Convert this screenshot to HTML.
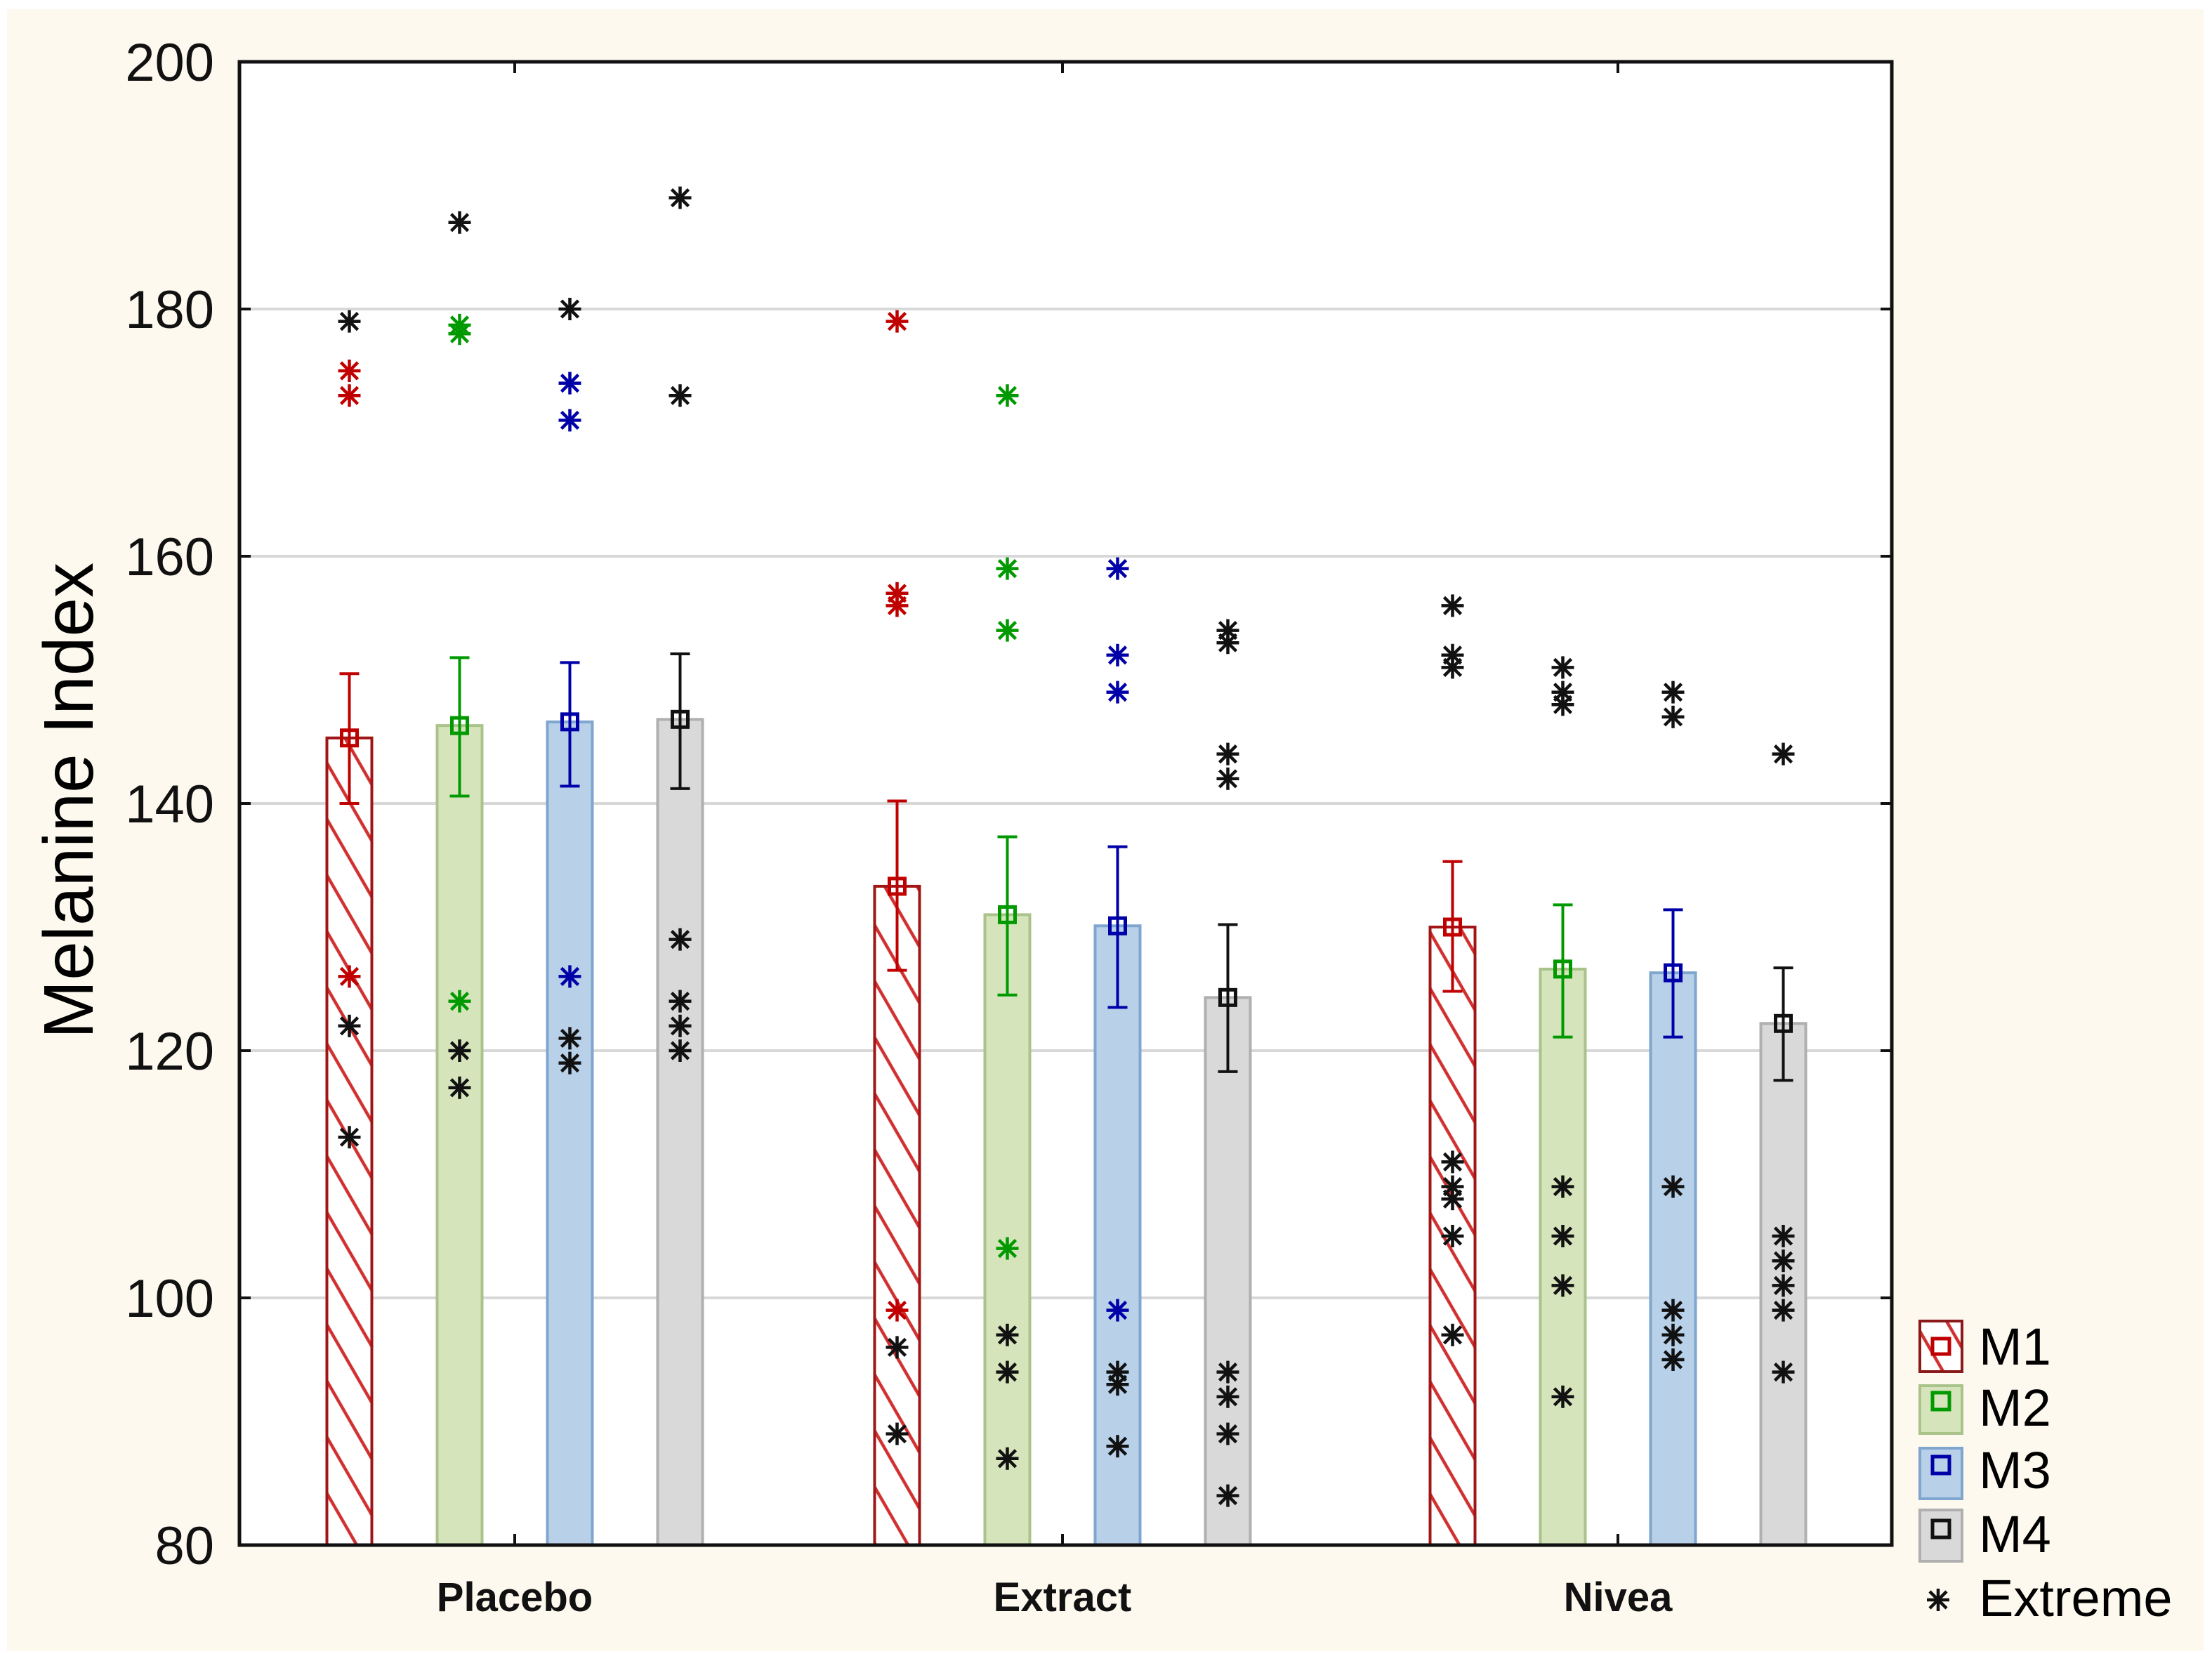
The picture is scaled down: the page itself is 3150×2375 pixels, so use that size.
<!DOCTYPE html>
<html><head><meta charset="utf-8"><style>
html,body{margin:0;padding:0;background:#fff}
svg{display:block}
text{font-family:"Liberation Sans",sans-serif}
</style></head><body>
<svg id="chart" width="3150" height="2375" viewBox="0 0 3150 2375" xmlns="http://www.w3.org/2000/svg">
<defs>
<pattern id="hatch" patternUnits="userSpaceOnUse" width="40" height="40" patternTransform="rotate(-30)">
<rect width="40" height="40" fill="#fff"/>
<line x1="0" y1="0" x2="0" y2="40" stroke="#d03030" stroke-width="4.5" transform="translate(20,0)"/>
</pattern>
</defs>
<rect x="10" y="13" width="3128" height="2338" fill="#fdf9ef"/>
<rect x="341" y="88" width="2353" height="2112" fill="#fff"/>
<g id="grid"></g>
<g id="bars"></g>
<g id="pts"></g>
<rect x="341" y="88" width="2353" height="2112" fill="none" stroke="#111" stroke-width="5"/>
<g id="axes"></g>
<text transform="translate(132,1140) rotate(-90)" text-anchor="middle" font-size="100" fill="#000">Melanine Index</text>
<g>
<rect x="2734" y="1881" width="60" height="72" fill="url(#hatch)" stroke="#8b1a1a" stroke-width="4"/>
<rect x="2752" y="1906" width="24" height="22" fill="#fff" stroke="#c00000" stroke-width="5"/>
<text x="2818" y="1943" font-size="74">M1</text>
<rect x="2734" y="1973" width="60" height="68" fill="#d6e4bc" stroke="#a9c38a" stroke-width="4"/>
<rect x="2752" y="1983" width="24" height="24" fill="#d6e4bc" stroke="#009a00" stroke-width="5"/>
<text x="2818" y="2030" font-size="74">M2</text>
<rect x="2734" y="2062" width="60" height="72" fill="#b8d0e8" stroke="#7fa6cf" stroke-width="4"/>
<rect x="2752" y="2074" width="24" height="24" fill="#b8d0e8" stroke="#0000a8" stroke-width="5"/>
<text x="2818" y="2119" font-size="74">M3</text>
<rect x="2734" y="2150" width="60" height="73" fill="#d9d9d9" stroke="#b0b0b0" stroke-width="4"/>
<rect x="2752" y="2165" width="24" height="24" fill="#d9d9d9" stroke="#111" stroke-width="5"/>
<text x="2818" y="2210" font-size="74">M4</text>
<g id="legstar"></g>
<text x="2818" y="2301" font-size="74">Extreme</text>
</g>
</svg>
<script>
const categories = ["Placebo","Extract","Nivea"];
const series = ["M1","M2","M3","M4"];
const means = [[145.3,146.3,146.6,146.8],[133.3,131.0,130.1,124.3],[130.0,126.6,126.3,122.2]];
const lows  = [[140.0,140.6,141.4,141.2],[126.5,124.5,123.5,118.3],[124.8,121.1,121.1,117.6]];
const highs = [[150.5,151.8,151.4,152.1],[140.2,137.3,136.5,130.2],[135.3,131.8,131.4,126.7]];
const yTicks = [80,100,120,140,160,180,200];
// extreme points: [category, series, value, colored(1)/black(0)]
const extremes = [
[0,0,179,0],[0,0,175,1],[0,0,173,1],[0,0,126,1],[0,0,122,0],[0,0,113,0],
[0,1,187,0],[0,1,178.7,1],[0,1,178,1],[0,1,124,1],[0,1,120,0],[0,1,117,0],
[0,2,180,0],[0,2,174,1],[0,2,171,1],[0,2,126,1],[0,2,121,0],[0,2,119,0],
[0,3,189,0],[0,3,173,0],[0,3,129,0],[0,3,124,0],[0,3,122,0],[0,3,120,0],
[1,0,179,1],[1,0,157,1],[1,0,156,1],[1,0,99,1],[1,0,96,0],[1,0,89,0],
[1,1,173,1],[1,1,159,1],[1,1,154,1],[1,1,104,1],[1,1,97,0],[1,1,94,0],[1,1,87,0],
[1,2,159,1],[1,2,152,1],[1,2,149,1],[1,2,99,1],[1,2,94,0],[1,2,93,0],[1,2,88,0],
[1,3,154,0],[1,3,153,0],[1,3,144,0],[1,3,142,0],[1,3,94,0],[1,3,92,0],[1,3,89,0],[1,3,84,0],
[2,0,156,0],[2,0,152,0],[2,0,151,0],[2,0,111,0],[2,0,109,0],[2,0,108,0],[2,0,105,0],[2,0,97,0],
[2,1,151,0],[2,1,149,0],[2,1,148,0],[2,1,109,0],[2,1,105,0],[2,1,101,0],[2,1,92,0],
[2,2,149,0],[2,2,147,0],[2,2,109,0],[2,2,99,0],[2,2,97,0],[2,2,95,0],
[2,3,144,0],[2,3,105,0],[2,3,103,0],[2,3,101,0],[2,3,99,0],[2,3,94,0]
];
const NS="http://www.w3.org/2000/svg";
const X0=341,X1=2694,Y0=88,Y1=2200;
function y(v){return Y1-(v-80)/(200-80)*(Y1-Y0);}
const catX=[733,1513,2304];
function x(c,s){return catX[c]+(s-1.5)*157;}
const fills=["url(#hatch)","#d6e4bc","#b8d0e8","#d9d9d9"];
const strokes=["#a01515","#a9c38a","#7fa6cf","#b0b0b0"];
const ecol=["#c00000","#009a00","#0000a8","#111"];
function mk(tag,attrs,parent){const e=document.createElementNS(NS,tag);for(const k in attrs)e.setAttribute(k,attrs[k]);parent.appendChild(e);return e;}
const grid=document.getElementById('grid'),axes=document.getElementById('axes'),bars=document.getElementById('bars'),pts=document.getElementById('pts');
yTicks.forEach(t=>{
  if(t>80&&t<200){const g=mk('line',{x1:X0,x2:X1,y1:y(t),y2:y(t),stroke:'#d8d8d8','stroke-width':4},grid);
  
  }
  const tk=mk('line',{x1:X0,x2:X0+16,y1:y(t),y2:y(t),stroke:'#111','stroke-width':4},axes);
  
  
  const tr=mk('line',{x1:X1-16,x2:X1,y1:y(t),y2:y(t),stroke:'#111','stroke-width':4},axes);
  
  
  const tl=mk('text',{x:305,y:y(t)+27,'text-anchor':'end','font-size':76,fill:'#111'},axes);
  tl.textContent=t;
  
  
});
categories.forEach((c,i)=>{
  const t=mk('text',{x:catX[i],y:2294,'text-anchor':'middle','font-size':58,'font-weight':'bold',fill:'#111'},axes);
  t.textContent=c;
  
  
  const a=mk('line',{x1:catX[i],x2:catX[i],y1:Y1,y2:Y1-16,stroke:'#111','stroke-width':4},axes);
  
  
  const b=mk('line',{x1:catX[i],x2:catX[i],y1:Y0,y2:Y0+16,stroke:'#111','stroke-width':4},axes);
  
  
});
function star(cx,cy,col,parent,name){
  const g=mk('g',{stroke:col,'stroke-width':4.5},parent);
  
  
  const r=16;
  mk('line',{x1:cx,x2:cx,y1:cy-r,y2:cy+r},g);
  mk('line',{x1:cx-r,x2:cx+r,y1:cy,y2:cy},g);
  mk('line',{x1:cx-r*0.75,x2:cx+r*0.75,y1:cy-r*0.75,y2:cy+r*0.75},g);
  mk('line',{x1:cx-r*0.75,x2:cx+r*0.75,y1:cy+r*0.75,y2:cy-r*0.75},g);
}
categories.forEach((c,i)=>series.forEach((s,j)=>{
  const cx=x(i,j),w=64;
  const r=mk('rect',{x:cx-w/2,y:y(means[i][j]),width:w,height:Y1-y(means[i][j]),fill:fills[j],stroke:strokes[j],'stroke-width':4},bars);
  
  
  const g=mk('g',{stroke:ecol[j],'stroke-width':4,fill:'none'},bars);
  
  
  mk('line',{x1:cx,x2:cx,y1:y(lows[i][j]),y2:y(highs[i][j])},g);
  mk('line',{x1:cx-14,x2:cx+14,y1:y(lows[i][j]),y2:y(lows[i][j])},g);
  mk('line',{x1:cx-14,x2:cx+14,y1:y(highs[i][j]),y2:y(highs[i][j])},g);
  mk('rect',{x:cx-11,y:y(means[i][j])-11,width:22,height:22,fill:'none','stroke-width':5},g);
}));
extremes.forEach((e,k)=>{
  star(x(e[0],e[1]),y(e[2]),e[3]?ecol[e[1]]:'#111',pts,'extreme-point-'+k);
});
star(2760,2278,'#111',document.getElementById('legstar'),'legend-marker-extreme');
</script>
</body></html>
